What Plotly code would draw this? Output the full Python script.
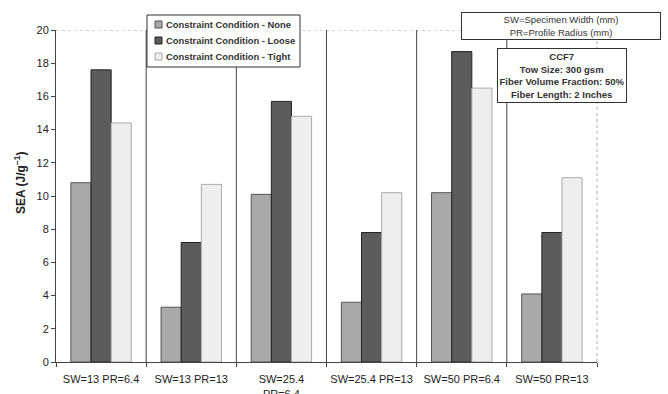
import plotly.graph_objects as go

categories = ["SW=13 PR=6.4", "SW=13 PR=13", "SW=25.4<br>PR=6.4", "SW=25.4 PR=13", "SW=50 PR=6.4", "SW=50 PR=13"]
none_vals = [10.8, 3.3, 10.1, 3.6, 10.2, 4.1]
loose_vals = [17.6, 7.2, 15.7, 7.8, 18.7, 7.8]
tight_vals = [14.4, 10.7, 14.8, 10.2, 16.5, 11.1]
series_names = ["Constraint Condition - None", "Constraint Condition - Loose", "Constraint Condition - Tight"]
y_ticks = [0, 2, 4, 6, 8, 10, 12, 14, 16, 18, 20]

W, H = 668, 394
L, R, T, B = 56, 71, 30, 32
PW, PH = W - L - R, H - T - B


def px(x):
    return (x - L) / PW


def py(y):
    return (H - B - y) / PH


xpos = list(range(len(categories)))
boundaries = [i - 0.5 for i in range(len(categories) + 1)]
fills = ["#a9a9a9", "#5c5c5c", "#eeeeee"]
edges = ["#555555", "#222222", "#aaaaaa"]
font_fam = "Liberation Sans, Arial"

fig = go.Figure()
for name, vals, fc, ec in zip(series_names, [none_vals, loose_vals, tight_vals], fills, edges):
    fig.add_trace(go.Bar(x=xpos, y=vals, name=name, showlegend=False,
                         marker=dict(color=fc, line=dict(color=ec, width=1))))

# category separators
for b in boundaries[1:-1]:
    fig.add_shape(type="line", xref="x", yref="y", x0=b, x1=b, y0=0, y1=20,
                  line=dict(color="#444444", width=1), layer="below")
# top and right dotted border
fig.add_shape(type="line", xref="paper", yref="y", x0=0, x1=1, y0=20, y1=20,
              line=dict(color="#aaaaaa", width=1, dash="dot"), layer="below")
fig.add_shape(type="line", xref="paper", yref="y", x0=1, x1=1, y0=0, y1=20,
              line=dict(color="#aaaaaa", width=1, dash="dot"), layer="below")

# custom legend box
fig.add_shape(type="rect", xref="paper", yref="paper", x0=px(147), x1=px(300), y0=py(67), y1=py(15),
              line=dict(color="#333333", width=1), fillcolor="white", layer="above")
for k, (name, fc, ec) in enumerate(zip(series_names, fills, edges)):
    yc = 24.5 + k * 16
    fig.add_shape(type="rect", xref="paper", yref="paper", x0=px(155), x1=px(162),
                  y0=py(yc + 3.5), y1=py(yc - 3.5),
                  line=dict(color=ec, width=1), fillcolor=fc, layer="above")
    fig.add_annotation(xref="paper", yref="paper", x=px(164), y=py(yc), text="<b>" + name + "</b>",
                       showarrow=False, xanchor="left", yanchor="middle",
                       font=dict(family=font_fam, size=9.4, color="#333333"))

fig.add_annotation(xref="paper", yref="paper", x=px(561), y=py(26),
                   text="SW=Specimen Width (mm)<br>PR=Profile Radius (mm)", showarrow=False,
                   font=dict(family=font_fam, size=9.5, color="#333333"),
                   bordercolor="#333333", borderwidth=1, bgcolor="white", width=196, height=24,
                   xanchor="center", yanchor="middle")
fig.add_annotation(xref="paper", yref="paper", x=px(562), y=py(75.5),
                   text="<b>CCF7<br>Tow Size: 300 gsm<br>Fiber Volume Fraction: 50%<br>Fiber Length: 2 Inches</b>",
                   showarrow=False, align="center",
                   font=dict(family=font_fam, size=9.5, color="#333333"),
                   bordercolor="#333333", borderwidth=1, bgcolor="white", width=126, height=51,
                   xanchor="center", yanchor="middle")

# y-axis title
fig.add_annotation(xref="paper", yref="paper", x=px(20), y=py(183),
                   text="<b>SEA (J/g<sup>−1</sup>)</b>", showarrow=False, textangle=-90,
                   xanchor="center", yanchor="middle",
                   font=dict(family=font_fam, size=12, color="#222222"))

fig.update_layout(
    width=W, height=H,
    margin=dict(l=L, r=R, t=T, b=B, autoexpand=False),
    paper_bgcolor="white", plot_bgcolor="white",
    barmode="group", bargap=0.33, bargroupgap=0,
    font=dict(family=font_fam, size=11, color="#222222"),
    showlegend=False,
    xaxis=dict(range=[-0.5, 5.5], tickvals=xpos, ticktext=categories, showgrid=False,
               showline=True, linecolor="#444444", linewidth=1, ticks="", zeroline=False,
               ticklabelstandoff=7,
               minor=dict(tickvals=boundaries, ticks="outside", ticklen=4, tickcolor="#444444",
                          showgrid=False),
               automargin=False, tickfont=dict(size=11, color="#222222")),
    yaxis=dict(range=[0, 20], tickvals=y_ticks, showgrid=False, showline=True,
               linecolor="#444444", linewidth=1, ticks="outside", ticklen=4, tickcolor="#444444",
               zeroline=False, automargin=False, tickfont=dict(size=11, color="#222222")),
)

fig.write_html("out.html", config={"displayModeBar": False},
               post_script="document.body.style.margin='0';document.body.style.overflow='hidden';")
